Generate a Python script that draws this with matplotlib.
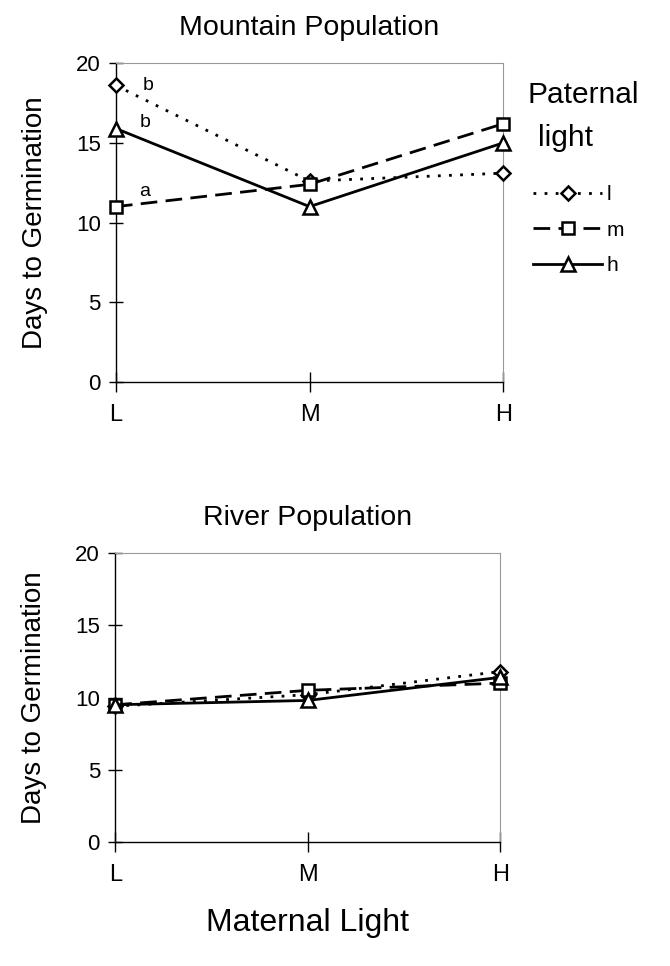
import matplotlib
matplotlib.use("Agg")
import matplotlib.pyplot as plt
from matplotlib.lines import Line2D

plt.rcParams['font.family'] = ['Liberation Sans', 'DejaVu Sans']

maternal = ["L", "M", "H"]
paternal = ["l", "m", "h"]
mountain_l = [18.6, 12.6, 13.1]
mountain_m = [11.0, 12.4, 16.2]
mountain_h = [15.9, 11.0, 15.0]
river_l = [9.4, 10.2, 11.8]
river_m = [9.5, 10.5, 11.0]
river_h = [9.5, 9.8, 11.4]
yticks = [0, 5, 10, 15, 20]
letters = ["b", "b", "a"]

styles = [
    dict(linestyle=(0, (1, 3)), marker="D", markersize=7),
    dict(linestyle=(0, (6, 3)), marker="s", markersize=9),
    dict(linestyle="-", marker="^", markersize=10),
]

fig = plt.figure(figsize=(6.7, 9.66), dpi=100)
ax1 = fig.add_axes([0.173, 0.6046, 0.578, 0.330])
ax2 = fig.add_axes([0.172, 0.1284, 0.575, 0.299])

x = list(range(len(maternal)))

def draw(ax, series, title):
    for vals, st in zip(series, styles):
        ax.plot(x, vals, color="black", linewidth=2.0, markerfacecolor="white",
                markeredgecolor="black", markeredgewidth=1.8, clip_on=False, zorder=3,
                **st)
    ax.set_xlim(0, 2)
    ax.set_ylim(0, 20)
    ax.set_yticks(yticks)
    ax.set_xticks(x)
    ax.set_xticklabels(maternal, fontsize=17)
    ax.tick_params(axis="y", labelsize=16, direction="inout", length=10, width=1, pad=6)
    ax.tick_params(axis="x", direction="inout", length=14, width=1, pad=9)
    for s in ["top", "right"]:
        ax.spines[s].set_color("#999999")
        ax.spines[s].set_linewidth(0.8)
    for s in ["left", "bottom"]:
        ax.spines[s].set_linewidth(1.0)
    ax.set_ylabel("Days to Germination", fontsize=20, labelpad=20)
    ax.set_title(title, fontsize=20.5, pad=20)

draw(ax1, [mountain_l, mountain_m, mountain_h], "Mountain Population")
draw(ax2, [river_l, river_m, river_h], "River Population")
ax2.set_xlabel("Maternal Light", fontsize=23, labelpad=16)

# significance letters at L in the top panel
offsets = [(19, 0), (17, 4), (17, 11)]
for vals, letter, off in zip([mountain_l, mountain_h, mountain_m], letters, offsets):
    ax1.annotate(letter, (0, vals[0]), xytext=off, textcoords="offset points",
                 fontsize=14, ha="left", va="center")

# legend
fig.text(0.788, 0.902, "Paternal", fontsize=21.5, ha="left", va="center")
fig.text(0.803, 0.857, "light", fontsize=21.5, ha="left", va="center")
handles = [Line2D([0], [0], color="black", linewidth=2.0, markerfacecolor="white",
                  markeredgecolor="black", markeredgewidth=1.8, **st) for st in styles]
fig.legend(handles, paternal, loc="upper left", bbox_to_anchor=(0.768, 0.828),
           frameon=False, fontsize=15, handlelength=3.3, handletextpad=0.2,
           labelspacing=0.8)

fig.savefig("out.png", dpi=100)
